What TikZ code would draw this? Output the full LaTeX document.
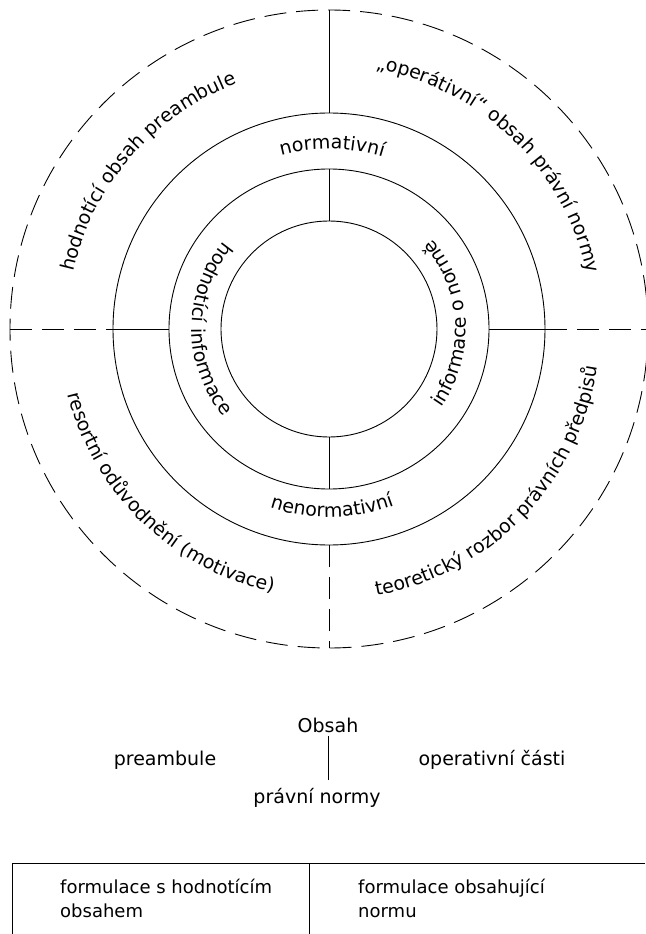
\documentclass[tikz,border=0pt]{standalone}
\usepackage{fontspec}
\setmainfont{DejaVu Sans}
\usetikzlibrary{decorations.text,positioning}
\newcommand\letterfont{\fontsize{19}{24}\selectfont}
\newcommand\tablefont{\fontsize{18}{24}\selectfont}
\tikzset{
    ringline/.style={
        line width=0.9pt,
        black
    },
    % carkovane casti kruhu
    cutline/.style={
        line width=0.9pt,
        black,
        dash pattern=on 22pt off 10pt
    },
    ringtext/.style={
        decorate,
        decoration={text along path, text align=center,
            text format delimiters={|}{|}, text={|\letterfont|#1}}
    }
}

\begin{document}
\begin{tikzpicture}[x=1pt,y=1pt,font=\letterfont]
    \useasboundingbox (-329,-605) rectangle (316,329);
    \draw[cutline] (0,0) circle (319pt);
    \draw[ringline] (0,0) circle (216pt) (0,0) circle (160pt) (0,0) circle (108pt);
    \path
    (90:319pt) coordinate (t1) (90:216pt) coordinate (t2) (90:160pt) coordinate (t3) (90:108pt) coordinate (t4)
    (270:319pt) coordinate (b1) (270:216pt) coordinate (b2) (270:160pt) coordinate (b3) (270:108pt) coordinate (b4)
    (180:319pt) coordinate (l1) (180:216pt) coordinate (l2) (180:160pt) coordinate (l3)
    (0:319pt) coordinate (r1) (0:216pt) coordinate (r2) (0:160pt) coordinate (r3);
    \draw[ringline] (t1) -- (t2) (t3) -- (t4) (b4) -- (b3) (l2) -- (l3) (r3) -- (r2);
    \draw[cutline] (b2) -- (b1);
    \draw[cutline] (l1) -- (l2);
    \draw[cutline] (r2) -- (r1);

    \path[ringtext={hodnotící obsah preambule}] (178:262pt) arc[start angle=178, end angle=100, radius=262pt];
    \path[ringtext={„operátivní“ obsah právní normy}] (88:264pt) arc[start angle=88, end angle=4, radius=264pt];
    \path[ringtext={resortní odůvodnění (motivace)}] (184:269pt) arc[start angle=184, end angle=268, radius=269pt];
    \path[ringtext={teoretický rozbor právních předpisů}] (272:271pt) arc[start angle=272, end angle=360, radius=271pt];
    \path[ringtext={normativní}] (130:180pt) arc[start angle=130, end angle=48, radius=180pt];
    \path[ringtext={nenormativní}] (226:188pt) arc[start angle=226, end angle=316, radius=188pt];
    \path[ringtext={hodnotící informace}] (125:137pt) arc[start angle=125, end angle=235, radius=137pt];
    \path[ringtext={informace o normě}] (-50:137pt) arc[start angle=-50, end angle=56, radius=137pt];

    \node (obsah) at (-1,-396) {Obsah};
    \node (normy) at (-12,-469) {právní normy};
    \node (preambule) at (-164,-431) {preambule};
    \node (operativni) at (163,-431) {operativní části};
    \draw[ringline, shorten >=5pt] (obsah.south) -- (obsah.south |- normy.north);

    \path (-317,-534) coordinate (tl) (316,-534) coordinate (tr) (-317,-605) coordinate (bl)
    (-20,-534) coordinate (tm) (-20,-605) coordinate (bm);
    \draw[ringline] (bl) -- (tl) -- (tr) (tm) -- (bm);
    \node[anchor=north west, align=left, inner sep=0pt, font=\tablefont] (hodnotici) at (-269,-550) {formulace s hodnotícím\\obsahem};
    \node[anchor=north west, align=left, inner sep=0pt, font=\tablefont] (obsahujici) at (29,-550) {formulace obsahující\\normu};
\end{tikzpicture}
\end{document}
